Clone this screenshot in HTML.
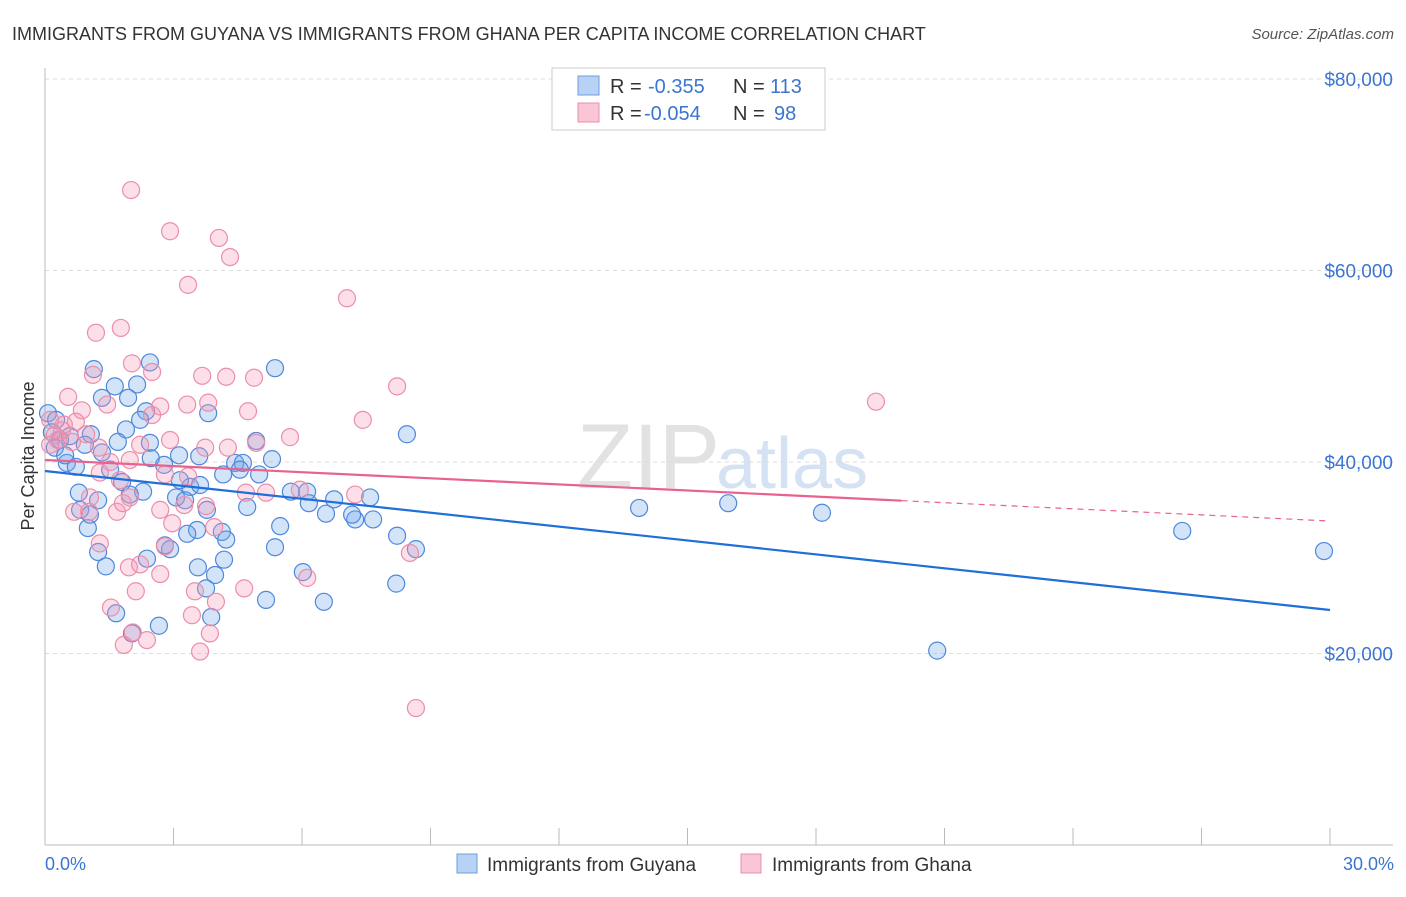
<!DOCTYPE html>
<html><head><meta charset="utf-8"><style>
body{margin:0;background:#fff;font-family:"Liberation Sans",sans-serif}
svg text{font-family:"Liberation Sans",sans-serif}
</style></head><body>
<svg id="c" width="1406" height="892">
<text x="12" y="40" font-size="18" fill="#333">IMMIGRANTS FROM GUYANA VS IMMIGRANTS FROM GHANA PER CAPITA INCOME CORRELATION CHART</text>
<text x="1394" y="39" font-size="15" fill="#555" font-style="italic" text-anchor="end">Source: ZipAtlas.com</text>
<text x="720" y="488" font-size="92" fill="#e2e2e2" text-anchor="end" font-family="Liberation Serif">ZIP</text>
<text x="716" y="488" font-size="72" fill="#d5e2f3">atlas</text>
<g id="grid"></g><g id="axes"></g><g id="pts"></g><g id="lines"></g>
<text transform="translate(34,456) rotate(-90)" font-size="18" fill="#333" text-anchor="middle">Per Capita Income</text>
<text x="45" y="870" font-size="18" fill="#3a75d1">0.0%</text>
<text x="1394" y="870" font-size="18" fill="#3a75d1" text-anchor="end">30.0%</text>
<g>
<rect x="552" y="68" width="273" height="62" fill="#fff" stroke="#ccc"/>
<rect x="578" y="76" width="21" height="19" fill="#b7d2f4" stroke="#6d9de0"/>
<rect x="578" y="103" width="21" height="19" fill="#f9c6d5" stroke="#ec8eaa"/>
<text x="610" y="93" font-size="20" fill="#333">R = </text><text x="648" y="93" font-size="20" fill="#3a75d1">-0.355</text>
<text x="733" y="93" font-size="20" fill="#333">N = </text><text x="770" y="93" font-size="20" fill="#3a75d1">113</text>
<text x="610" y="120" font-size="20" fill="#333">R = </text><text x="644" y="120" font-size="20" fill="#3a75d1">-0.054</text>
<text x="733" y="120" font-size="20" fill="#333">N = </text><text x="774" y="120" font-size="20" fill="#3a75d1">98</text>
</g>
<g>
<rect x="457" y="854" width="20" height="19" fill="#b7d2f4" stroke="#6d9de0"/>
<text x="487" y="871" font-size="19" fill="#333">Immigrants from Guyana</text>
<rect x="741" y="854" width="20" height="19" fill="#f9c6d5" stroke="#ec8eaa"/>
<text x="772" y="871" font-size="19" fill="#333">Immigrants from Ghana</text>
</g>
</svg>
<script>
const yTicks=[20000,40000,60000,80000];
const yTickLabels=["$20,000","$40,000","$60,000","$80,000"];
const xTicks=[0,3,6,9,12,15,18,21,24,27,30];
const guyanaX=[2.45,1.14,5.37,1.63,2.15,1.94,1.33,3.81,2.36,0.07,0.26,8.45,1.89,1.07,0.16,1.70,2.45,3.13,4.93,3.60,5.30,0.51,2.47,1.33,4.44,4.62,4.16,0.72,5.00,2.78,1.80,5.74,6.12,3.39,3.06,6.75,7.59,2.29,1.24,0.79,0.82,4.72,13.87,15.95,18.14,6.16,6.56,7.24,7.66,7.17,3.78,1.05,5.49,3.55,3.32,2.92,4.13,1.24,4.23,8.22,8.66,5.37,26.55,29.86,1.00,1.42,2.38,4.18,3.57,3.97,6.02,3.76,8.20,5.16,6.51,1.66,3.88,2.03,2.66,20.83,0.35,0.58,0.23,0.47,0.93,1.52,1.98,3.62,3.27,2.80,2.22,4.55,3.15];
const guyanaY=[50.4,49.7,49.8,47.9,48.1,46.7,46.7,45.1,45.3,45.1,44.4,42.9,43.4,42.9,43.1,42.1,42.0,40.7,42.2,40.6,40.3,39.9,40.4,41.0,39.9,39.9,38.7,39.5,38.7,39.7,37.9,36.9,36.9,37.4,36.3,36.1,36.3,36.9,36.0,36.8,35.0,35.3,35.2,35.7,34.7,35.7,34.6,34.0,34.0,34.5,35.0,34.5,33.3,32.9,32.5,30.9,32.7,30.6,31.9,32.3,30.9,31.1,32.8,30.7,33.1,29.1,29.9,29.8,29.0,28.2,28.5,26.8,27.3,25.6,25.4,24.2,23.8,22.1,22.9,20.3,42.3,42.7,41.5,40.7,41.8,39.2,36.6,37.6,36.0,31.3,44.4,39.2,38.1];
const ghanaX=[2.01,2.92,4.06,4.32,3.34,7.05,1.19,1.77,2.03,2.50,1.12,3.67,4.23,4.88,8.22,19.40,0.54,1.45,2.69,3.32,3.81,4.74,0.86,2.50,5.72,7.42,3.74,4.27,4.93,0.40,0.30,0.23,0.44,0.12,0.63,1.26,0.96,1.52,1.98,1.28,2.80,3.34,1.75,1.05,1.98,4.69,7.24,0.68,1.03,1.68,1.82,2.69,3.25,3.76,3.95,2.97,2.80,1.28,1.96,2.69,2.22,2.12,3.50,4.65,6.12,3.99,3.43,3.85,2.05,1.54,2.38,1.84,3.62,8.52,8.66,5.16,5.95,0.12,0.72,2.92,2.22];
const ghanaY=[68.4,64.1,63.4,61.4,58.5,57.1,53.5,54.0,50.3,49.4,49.1,49.0,48.9,48.8,47.9,46.3,46.8,46.0,45.8,46.0,46.2,45.3,45.4,44.9,42.6,44.4,41.5,41.5,42.0,43.3,42.3,42.8,43.9,41.8,42.1,41.5,42.9,40.0,40.2,38.9,38.7,38.5,38.1,36.3,36.3,36.8,36.6,34.8,34.8,34.8,35.7,35.0,35.5,35.4,33.2,33.6,31.2,31.5,29.0,28.3,29.3,26.5,26.5,26.8,27.9,25.4,24.0,22.1,22.2,24.8,21.4,20.9,20.2,30.5,14.3,36.8,37.1,44.4,44.2,42.3,41.8];
const guyanaTrend=[39060,24543];
const ghanaTrend=[40209,33838];
const ghanaSolidEnd=20;

const NS="http://www.w3.org/2000/svg";
const sx=v=>45+v/30*1285;
const sy=v=>845-v/20000*191.5;
function mk(tag,attrs,parent){const e=document.createElementNS(NS,tag);for(const k in attrs)e.setAttribute(k,attrs[k]);document.getElementById(parent).appendChild(e);return e;}

yTicks.forEach((t,i)=>{
 const l=mk('line',{x1:45,x2:1393,y1:sy(t),y2:sy(t),stroke:'#ddd','stroke-dasharray':'4,4'},'grid');
 
 
 const tx=mk('text',{x:1393,y:sy(t)+7,'font-size':19,fill:'#3a75d1','text-anchor':'end'},'grid');
 tx.textContent=yTickLabels[i];
 
 
});
const ax=mk('line',{x1:45,x2:45,y1:68,y2:845,stroke:'#bbb'},'axes');


const bx=mk('line',{x1:45,x2:1393,y1:845,y2:845,stroke:'#bbb'},'axes');


xTicks.forEach(t=>{
 const l=mk('line',{x1:sx(t),x2:sx(t),y1:828,y2:845,stroke:'#bbb'},'axes');
 
 
});
function pts(X,Y,fill,stroke,name){
 X.forEach((x,i)=>{
  const c=mk('circle',{cx:sx(x),cy:sy(Y[i]*1000),r:8.5,fill:fill,stroke:stroke,'stroke-width':1.2},'pts');
  
  
 });
}
pts(guyanaX,guyanaY,'rgba(110,165,235,0.3)','#4f88dc','point-guyana');
pts(ghanaX,ghanaY,'rgba(245,150,180,0.3)','#ec8eaa','point-ghana');
const bl=mk('line',{x1:sx(0),y1:sy(guyanaTrend[0]),x2:sx(30),y2:sy(guyanaTrend[1]),stroke:'#1f6fd8','stroke-width':2.2},'lines');


const gm=ghanaTrend[0]+(ghanaTrend[1]-ghanaTrend[0])*ghanaSolidEnd/30;
const pl=mk('line',{x1:sx(0),y1:sy(ghanaTrend[0]),x2:sx(ghanaSolidEnd),y2:sy(gm),stroke:'#e8628f','stroke-width':2.2},'lines');


const pd=mk('line',{x1:sx(ghanaSolidEnd),y1:sy(gm),x2:sx(30),y2:sy(ghanaTrend[1]),stroke:'#e8628f','stroke-width':1.2,'stroke-dasharray':'6,5'},'lines');


</script>
</body></html>
